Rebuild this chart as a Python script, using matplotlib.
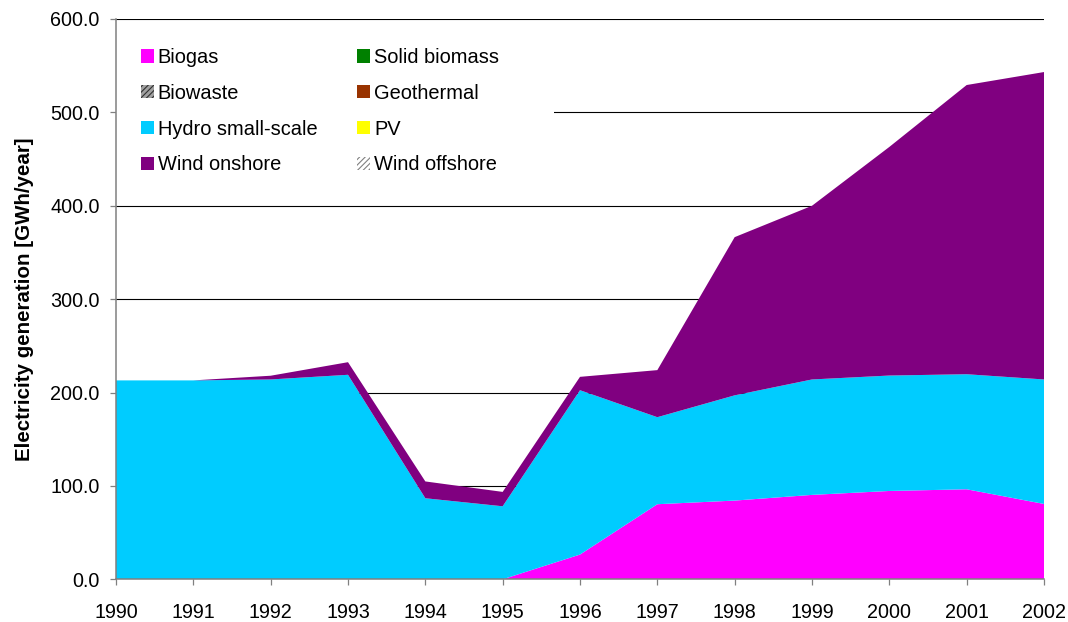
import matplotlib
matplotlib.use("Agg")
import matplotlib.pyplot as plt
from matplotlib.patches import Patch, Rectangle
from matplotlib.ticker import FormatStrFormatter

plt.rcParams['font.family'] = ['Liberation Sans', 'DejaVu Sans']
plt.rcParams['hatch.linewidth'] = 0.8

years = [1990, 1991, 1992, 1993, 1994, 1995, 1996, 1997, 1998, 1999, 2000, 2001, 2002]
biogas = [0, 0, 0, 0, 0, 0, 26.5, 80.4, 84.3, 90.4, 94.6, 96.4, 80.7]
solid_biomass = [0] * 13
biowaste = [0] * 13
geothermal = [0] * 13
hydro = [213, 213, 214, 219, 86.8, 78.2, 176.0, 93.2, 112.7, 123.6, 123.6, 123.2, 133.3]
pv = [0] * 13
wind_onshore = [0, 0, 4, 13.5, 18, 15.4, 14.3, 50.4, 169.4, 186, 244.8, 309.7, 329.2]
wind_offshore = [0] * 13

series = [biogas, solid_biomass, biowaste, geothermal, hydro, pv, wind_onshore, wind_offshore]
labels = ["Biogas", "Solid biomass", "Biowaste", "Geothermal",
          "Hydro small-scale", "PV", "Wind onshore", "Wind offshore"]
colors = ["#FF00FF", "#008000", "#808080", "#993300", "#00CCFF", "#FFFF00", "#800080", "#E0E0E0"]

W, H = 1068, 622
x0, x1, ytop, ybot = 116, 1044, 19, 579.3
fig = plt.figure(figsize=(W / 100, H / 100), dpi=100)
ax = fig.add_axes([x0 / W, 1 - ybot / H, (x1 - x0) / W, (ybot - ytop) / H])

ax.stackplot(years, *series, colors=colors, linewidth=0, edgecolor='none', zorder=1)

ax.set_xlim(1990, 2002)
ax.set_ylim(0, 600)
ax.set_xticks(years)
ax.set_yticks([0, 100, 200, 300, 400, 500, 600])
ax.yaxis.set_major_formatter(FormatStrFormatter('%.1f'))
ax.set_axisbelow(True)
ax.grid(axis='y', color='black', linewidth=0.8)
ax.grid(axis='x', visible=False)

for s in ['top', 'right']:
    ax.spines[s].set_visible(False)
for s in ['left', 'bottom']:
    ax.spines[s].set_color('#808080')
    ax.spines[s].set_linewidth(1.1)
    ax.spines[s].set_zorder(4)
ax.tick_params(axis='both', direction='out', length=4.3, width=0.9, color='#808080',
               labelsize=14.2, labelcolor='black')
ax.tick_params(axis='x', pad=12.7)
ax.tick_params(axis='y', pad=7.5)

ax.set_ylabel("Electricity generation [GWh/year]", fontsize=14.8, fontweight='bold')
ax.yaxis.set_label_coords((34 - x0) / (x1 - x0), 0.5)

# white legend background area
ax.add_patch(Rectangle((0, (ybot - 190) / (ybot - ytop)), (554 - x0) / (x1 - x0),
                       (190 - 25) / (ybot - ytop), transform=ax.transAxes,
                       facecolor='white', edgecolor='none', zorder=2))

# legend (column-major order: left column then right column)
order = [0, 2, 4, 6, 1, 3, 5, 7]
handles = []
for i in order:
    if labels[i] == "Biowaste":
        h = Patch(facecolor='#a0a0a0', edgecolor='#303030', hatch='//////', linewidth=0)
    elif labels[i] == "Wind offshore":
        h = Patch(facecolor='white', edgecolor='#808080', hatch='//////', linewidth=0)
    else:
        h = Patch(facecolor=colors[i], edgecolor='none')
    handles.append(h)
leg = ax.legend(handles, [labels[i] for i in order], ncol=2, loc='upper left',
                bbox_to_anchor=((141 - x0) / (x1 - x0), (ybot - 48) / (ybot - ytop)),
                fontsize=14.4, frameon=False,
                handlelength=0.64, handleheight=0.64, handletextpad=0.2,
                columnspacing=2.0, labelspacing=0.84, borderpad=0, borderaxespad=0)
leg.set_zorder(3)

fig.savefig("out.png", dpi=100)
